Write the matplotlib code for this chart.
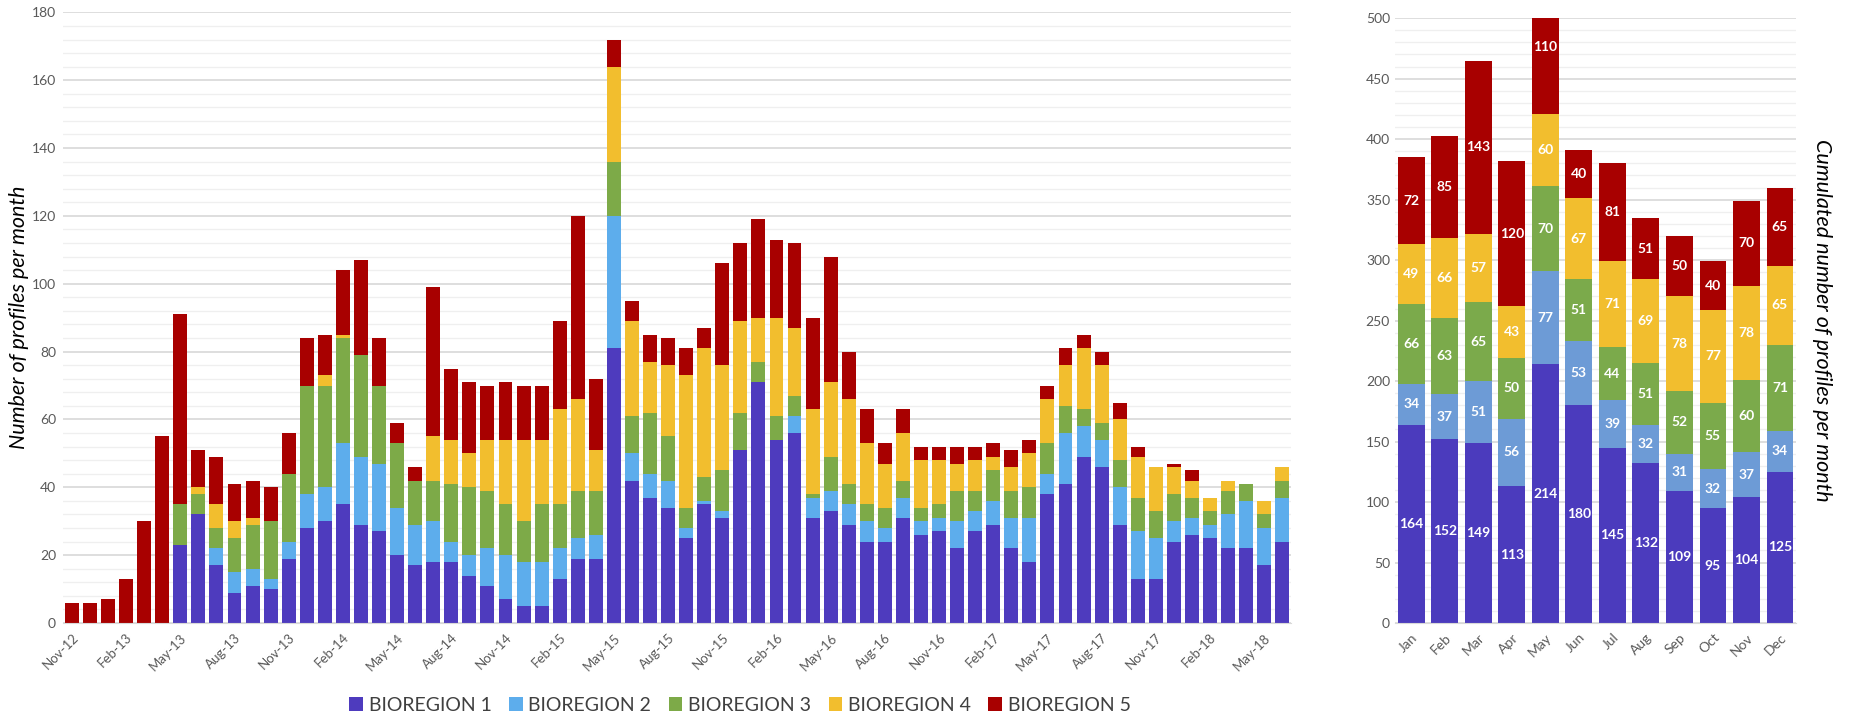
import numpy as np
import pandas as pd
import matplotlib
matplotlib.use("Agg")
import matplotlib.pyplot as plt
from matplotlib.ticker import MultipleLocator

plt.rcParams['font.family'] = ['Lato', 'DejaVu Sans']

# monthly profiles, Nov-12 .. Jun-18
months = pd.date_range("2012-11-01", "2018-06-01", freq="MS").strftime("%b-%y").tolist()

bio1 = [0, 0, 0, 0, 0, 0, 23, 32, 17, 9, 11, 10, 19, 28, 30, 35, 29, 27, 20, 17,
        18, 18, 14, 11, 7, 5, 5, 13, 19, 19, 81, 42, 37, 34, 25, 35, 31, 51, 71, 54,
        56, 31, 33, 29, 24, 24, 31, 26, 27, 22, 27, 29, 22, 18, 38, 41, 49, 46, 29, 13,
        13, 24, 26, 25, 22, 22, 17, 24]
bio2 = [0, 0, 0, 0, 0, 0, 0, 0, 5, 6, 5, 3, 5, 10, 10, 18, 20, 20, 14, 12,
        12, 6, 6, 11, 13, 13, 13, 9, 6, 7, 39, 8, 7, 8, 3, 1, 2, 0, 0, 0,
        5, 6, 6, 6, 6, 4, 6, 4, 4, 8, 6, 7, 9, 13, 6, 15, 9, 8, 11, 14,
        12, 6, 5, 4, 10, 14, 11, 13]
bio3 = [0, 0, 0, 0, 0, 0, 12, 6, 6, 10, 13, 17, 20, 32, 30, 31, 30, 23, 19, 13,
        12, 17, 20, 17, 15, 12, 17, 13, 14, 13, 16, 11, 18, 13, 6, 7, 12, 11, 6, 7,
        6, 1, 10, 6, 5, 6, 5, 4, 4, 9, 6, 9, 8, 9, 9, 8, 5, 5, 8, 10,
        8, 8, 6, 4, 7, 5, 4, 5]
bio4 = [0, 0, 0, 0, 0, 0, 0, 2, 7, 5, 2, 0, 0, 0, 3, 1, 0, 0, 0, 0,
        13, 13, 10, 15, 19, 24, 19, 28, 27, 12, 28, 28, 15, 21, 39, 38, 31, 27, 13, 29,
        20, 25, 22, 25, 18, 13, 14, 14, 13, 8, 9, 4, 7, 10, 13, 12, 18, 17, 12, 12,
        13, 8, 5, 4, 3, 0, 4, 4]
bio5 = [6, 6, 7, 13, 30, 55, 56, 11, 14, 11, 11, 10, 12, 14, 12, 19, 28, 14, 6, 4,
        44, 21, 21, 16, 17, 16, 16, 26, 54, 21, 8, 6, 8, 8, 8, 6, 30, 23, 29, 23,
        25, 27, 37, 14, 10, 6, 7, 4, 4, 5, 4, 4, 5, 4, 4, 5, 4, 4, 5, 3,
        0, 1, 3, 0, 0, 0, 0, 0]

# cumulated per calendar month
cal_months = ["Jan", "Feb", "Mar", "Apr", "May", "Jun", "Jul", "Aug", "Sep", "Oct", "Nov", "Dec"]
cum1 = [164, 152, 149, 113, 214, 180, 145, 132, 109, 95, 104, 125]
cum2 = [34, 37, 51, 56, 77, 53, 39, 32, 31, 32, 37, 34]
cum3 = [66, 63, 65, 50, 70, 51, 44, 51, 52, 55, 60, 71]
cum4 = [49, 66, 57, 43, 60, 67, 71, 69, 78, 77, 78, 65]
cum5 = [72, 85, 143, 120, 110, 40, 81, 51, 50, 40, 70, 65]

names = ["BIOREGION 1", "BIOREGION 2", "BIOREGION 3", "BIOREGION 4", "BIOREGION 5"]
colors = ["#4E3BBE", "#5DADEC", "#7DAA48", "#F2BE2E", "#A80000"]
colors_r = ["#4B3BBD", "#6D9BD6", "#7BAA4B", "#F2BE2E", "#A80000"]
tick_col = "#595959"

fig = plt.figure(figsize=(18.5, 7.27), dpi=100)
ax1 = fig.add_axes([0.034, 0.143, 0.664, 0.840])
ax2 = fig.add_axes([0.754, 0.143, 0.217, 0.832])


def style(ax, major, minor):
    ax.yaxis.set_major_locator(MultipleLocator(major))
    ax.yaxis.set_minor_locator(MultipleLocator(minor))
    ax.grid(which="major", axis="y", color="#d4d4d4", lw=1.1)
    ax.grid(which="minor", axis="y", color="#efefef", lw=0.9)
    ax.set_axisbelow(True)
    for s in ["top", "right", "left"]:
        ax.spines[s].set_visible(False)
    ax.spines["bottom"].set_color("#d9d9d9")
    ax.tick_params(which="both", length=0, colors=tick_col, labelsize=10)


# left: monthly stacked bars
x = np.arange(len(months))
series = [bio1, bio2, bio3, bio4, bio5]
bottom = np.zeros(len(months))
for vals, c, n in zip(series, colors, names):
    ax1.bar(x, vals, 0.77, bottom=bottom, color=c, label=n)
    bottom += np.array(vals)
style(ax1, 20, 4)
ax1.set_ylim(0, 180)
ax1.set_xlim(-0.5, 67.5)
ax1.set_xticks(x[::3])
ax1.set_xticklabels(months[::3], rotation=45, ha="right", rotation_mode="anchor")
ax1.tick_params(axis="x", pad=6, labelsize=9.5)
ax1.tick_params(axis="y", pad=5)
fig.text(0.0105, 0.563, "Number of profiles per month", fontsize=15.5, style="italic",
         rotation=90, ha="center", va="center")

# right: cumulated per calendar month
xc = np.arange(12)
cums = [cum1, cum2, cum3, cum4, cum5]
bottom = np.zeros(12)
for vals, c in zip(cums, colors_r):
    ax2.bar(xc, vals, 0.8, bottom=bottom, color=c)
    for xi, b, v in zip(xc, bottom, vals):
        ax2.text(xi, b + v / 2, str(v), ha="center", va="center", color="white",
                 fontsize=10, fontweight="bold")
    bottom += np.array(vals)
style(ax2, 50, 10)
ax2.set_ylim(0, 500)
ax2.set_xlim(-0.49, 11.49)
ax2.set_xticks(xc)
ax2.set_xticklabels(cal_months, rotation=45, ha="right", rotation_mode="anchor")
ax2.tick_params(axis="x", pad=6)
ax2.yaxis.set_label_position("right")
ax2.set_ylabel("Cumulated number of profiles per month", fontsize=15.5, style="italic",
               rotation=270, labelpad=26, color="black")

handles, labels = ax1.get_legend_handles_labels()
fig.legend(handles, labels, loc="center", bbox_to_anchor=(0.40, 0.03), ncol=5,
           frameon=False, fontsize=14, handlelength=0.7, handleheight=0.7,
           handletextpad=0.3, columnspacing=0.9, labelcolor="#404040")

fig.savefig("out.png", dpi=100)
